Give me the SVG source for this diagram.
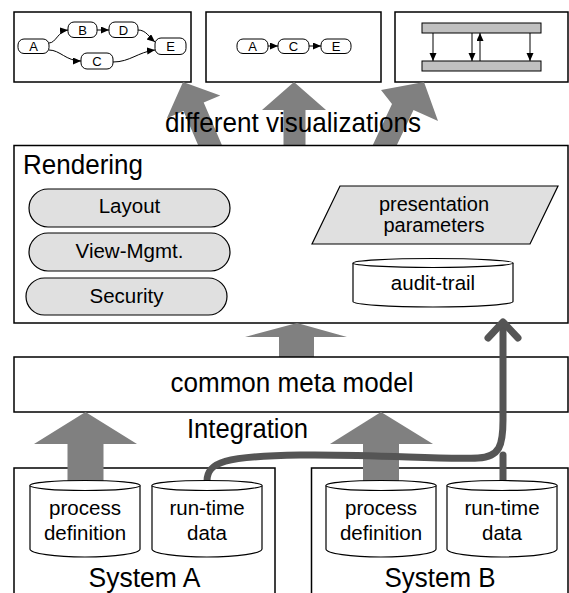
<svg xmlns="http://www.w3.org/2000/svg" width="569" height="593" viewBox="0 0 569 593">
  <defs>
    <style>
      .frame { fill: #fff; stroke: #000; stroke-width: 1.5; }
      .node { fill: #fff; stroke: #000; stroke-width: 1; }
      .lbl { font-family: "Liberation Sans", Arial, sans-serif; fill: #000; text-anchor: middle; }
      .small { font-size: 13px; }
      .mid { font-size: 20.5px; }
      .big { font-size: 27.5px; }
      .edge { fill: none; stroke: #000; stroke-width: 1; marker-end: url(#tri); }
      .flow { fill: #808080; stroke: none; }
      .pill { fill: #e0e0e0; stroke: #000; stroke-width: 1.2; }
      .db { fill: #fff; stroke: #000; stroke-width: 1.2; }
      .bar { fill: #c0c0c0; stroke: #000; stroke-width: 1; }
      .trace { fill: none; stroke: #555; stroke-width: 7; stroke-linecap: round; stroke-linejoin: round; }
    </style>
    <marker id="tri" markerUnits="userSpaceOnUse" markerWidth="8" markerHeight="8" refX="8" refY="3.5" orient="auto">
      <path d="M0,0 L8,3.5 L0,7 Z" fill="#000"/>
    </marker>
  </defs>

  <!-- visualization previews -->
  <g id="view-graph">
    <rect class="frame" x="14" y="12" width="177" height="70"/>
    <g id="vg-a"><rect class="node" x="18" y="39" width="31" height="14.5" rx="6"/><text class="lbl small" x="33.5" y="51">A</text></g>
    <g id="vg-b"><rect class="node" x="68" y="22" width="29" height="15.5" rx="6"/><text class="lbl small" x="82.5" y="34.5">B</text></g>
    <g id="vg-d"><rect class="node" x="109" y="22" width="29" height="15.5" rx="6"/><text class="lbl small" x="123.5" y="34.5">D</text></g>
    <g id="vg-c"><rect class="node" x="81" y="53" width="32" height="16" rx="6"/><text class="lbl small" x="97" y="65.5">C</text></g>
    <g id="vg-e"><rect class="node" x="155" y="38" width="31" height="16.5" rx="6"/><text class="lbl small" x="170.5" y="51">E</text></g>
    <g id="vg-edges">
      <path class="edge" d="M49,43 C56,43 58,31 68,30"/>
      <path class="edge" d="M49,50 C60,50 66,61 81,61"/>
      <path class="edge" d="M97,30 L109,30"/>
      <path class="edge" d="M138,30 C146,30 149,37 155,42"/>
      <path class="edge" d="M113,62 C130,62 138,52 155,50"/>
    </g>
  </g>

  <g id="view-path">
    <rect class="frame" x="206" y="12" width="175" height="70"/>
    <g id="vp-a"><rect class="node" x="237" y="39" width="31" height="14.5" rx="6"/><text class="lbl small" x="252.5" y="51">A</text></g>
    <g id="vp-c"><rect class="node" x="278" y="39" width="31" height="14.5" rx="6"/><text class="lbl small" x="293.5" y="51">C</text></g>
    <g id="vp-e"><rect class="node" x="321" y="39" width="30" height="14.5" rx="6"/><text class="lbl small" x="336" y="51">E</text></g>
    <g id="vp-edges">
      <path class="edge" d="M268,46 L278,46"/>
      <path class="edge" d="M309,46 L321,46"/>
    </g>
  </g>

  <g id="view-lanes">
    <rect class="frame" x="395" y="12" width="173" height="70"/>
    <rect class="bar" x="422" y="23" width="119" height="10"/>
    <rect class="bar" x="422" y="61" width="119" height="10"/>
    <g id="vl-edges">
      <path class="edge" d="M433,33 L433,61"/>
      <path class="edge" d="M472,33 L472,61"/>
      <path class="edge" d="M480,61 L480,33"/>
      <path class="edge" d="M530,33 L530,61"/>
    </g>
  </g>

  <!-- broad arrows from the rendering layer to the views -->
  <g id="flows-up">
    <polygon class="flow" points="183,82 220.3,95.4 203.7,102.5 224,150 200.2,150 183.5,111.1 166.9,118.2"/>
    <polygon class="flow" points="294,82 326,110 305.5,110 305.5,150 283.5,150 283.5,110 262,110"/>
    <polygon class="flow" points="424,82 438,121 413.5,110 394.5,150 370.5,150 392,104 381,90"/>
  </g>
  <text class="lbl big" x="293" y="132" textLength="256" lengthAdjust="spacingAndGlyphs">different visualizations</text>

  <g id="rendering">
    <rect class="frame" x="14" y="145.5" width="554" height="177.5"/>
    <text class="lbl big" x="23" y="174" style="text-anchor:start" textLength="120" lengthAdjust="spacingAndGlyphs">Rendering</text>
    <g id="layout"><rect class="pill" x="29" y="189" width="201" height="38" rx="19"/><text class="lbl mid" x="129.5" y="213">Layout</text></g>
    <g id="view-mgmt"><rect class="pill" x="29" y="233" width="201" height="38" rx="19"/><text class="lbl mid" x="129.5" y="258">View-Mgmt.</text></g>
    <g id="security"><rect class="pill" x="26" y="278" width="201" height="37" rx="18.5"/><text class="lbl mid" x="126.5" y="303">Security</text></g>
    <g id="presentation">
      <polygon class="pill" points="340,186 558,186 530,244 312,244"/>
      <text class="lbl mid" x="434" y="210.5" style="font-size:20px">presentation</text>
      <text class="lbl mid" x="434" y="231.5" style="font-size:20px">parameters</text>
    </g>
    <g id="audit-trail">
      <path class="db" d="M353,263 L353,301.5 A80,5.5 0 0 0 513,301.5 L513,263 A80,4.5 0 0 0 353,263 Z"/>
      <path class="db" d="M353,263 A80,4.5 0 0 0 513,263"/>
      <text class="lbl mid" x="433" y="290">audit-trail</text>
    </g>
  </g>

  <polygon id="flow-meta" class="flow" points="297,323 347,337 314,337 314,357 279,357 279,337 245,337"/>

  <g id="meta-model">
    <rect class="frame" x="14" y="357" width="554" height="55"/>
    <text class="lbl big" x="292" y="392" textLength="243" lengthAdjust="spacingAndGlyphs">common meta model</text>
  </g>

  <text class="lbl big" x="247.5" y="438" textLength="121" lengthAdjust="spacingAndGlyphs">Integration</text>

  <g id="system-a">
    <rect class="frame" x="14" y="468" width="261" height="140"/>
    <text class="lbl big" x="144.5" y="587" textLength="112" lengthAdjust="spacingAndGlyphs">System A</text>
  </g>
  <g id="system-b">
    <rect class="frame" x="311.5" y="468" width="256.5" height="140"/>
    <text class="lbl big" x="440" y="587" textLength="111" lengthAdjust="spacingAndGlyphs">System B</text>
  </g>

  <g id="flows-integration">
    <polygon class="flow" points="85.5,412 137,444 103.5,444 103.5,486 67.5,486 67.5,444 34,444"/>
    <polygon class="flow" points="381,412 433,444 399,444 399,486 363,486 363,444 330,444"/>
  </g>

  <!-- run-time data trace into the audit trail -->
  <g id="connectors">
    <path class="trace" d="M207,481 C207,462 225,456 300,455 C380,454 440,460 478,458 C500,457 503,445 503,420 L503,324"/>
    <path class="trace" d="M503,481 L503,455"/>
    <polyline class="trace" points="488,338 503,322 518,338"/>
  </g>

  <g id="process-def-a">
    <path class="db" d="M30,485.5 L30,549 A55,8 0 0 0 140,549 L140,485.5 A55,5 0 0 0 30,485.5 Z"/>
    <path class="db" d="M30,485.5 A55,5 0 0 0 140,485.5"/>
    <text class="lbl mid" x="85" y="515">process</text>
    <text class="lbl mid" x="85" y="540">definition</text>
  </g>
  <g id="runtime-a">
    <path class="db" d="M152,485.5 L152,549 A55,8 0 0 0 262,549 L262,485.5 A55,5 0 0 0 152,485.5 Z"/>
    <path class="db" d="M152,485.5 A55,5 0 0 0 262,485.5"/>
    <text class="lbl mid" x="207" y="515">run-time</text>
    <text class="lbl mid" x="207" y="540">data</text>
  </g>
  <g id="process-def-b">
    <path class="db" d="M326,485.5 L326,549 A55,8 0 0 0 436,549 L436,485.5 A55,5 0 0 0 326,485.5 Z"/>
    <path class="db" d="M326,485.5 A55,5 0 0 0 436,485.5"/>
    <text class="lbl mid" x="381" y="515">process</text>
    <text class="lbl mid" x="381" y="540">definition</text>
  </g>
  <g id="runtime-b">
    <path class="db" d="M447,485.5 L447,549 A55,8 0 0 0 557,549 L557,485.5 A55,5 0 0 0 447,485.5 Z"/>
    <path class="db" d="M447,485.5 A55,5 0 0 0 557,485.5"/>
    <text class="lbl mid" x="502" y="515">run-time</text>
    <text class="lbl mid" x="502" y="540">data</text>
  </g>
</svg>
